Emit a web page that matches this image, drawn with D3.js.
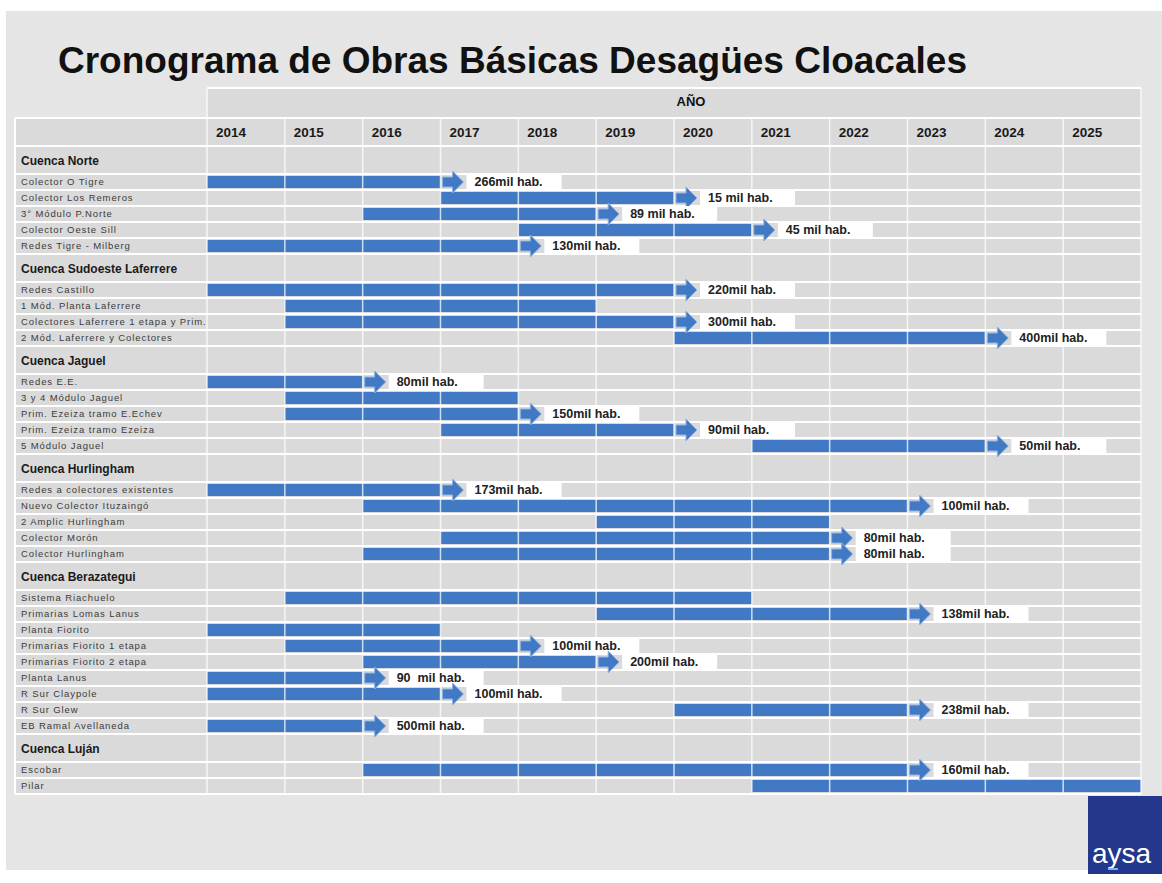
<!DOCTYPE html>
<html>
<head>
<meta charset="utf-8">
<script src="https://cdn.jsdelivr.net/npm/d3@7"></script>
<style>
  body { margin: 0; background: #fff; }
  svg { display: block; font-family: "Liberation Sans", Arial, sans-serif; }
</style>
</head>
<body>
<script>
// data
const years = [2014, 2015, 2016, 2017, 2018, 2019, 2020, 2021, 2022, 2023, 2024, 2025];

const groups = ["Cuenca Norte", "Cuenca Sudoeste Laferrere", "Cuenca Jaguel",
                "Cuenca Hurlingham", "Cuenca Berazategui", "Cuenca Luján"];

const taskGroup = [0, 0, 0, 0, 0,
                   1, 1, 1, 1,
                   2, 2, 2, 2, 2,
                   3, 3, 3, 3, 3,
                   4, 4, 4, 4, 4, 4, 4, 4, 4,
                   5, 5];

const taskNames = [
  "Colector O Tigre", "Colector Los Remeros", "3° Módulo P.Norte", "Colector Oeste Sill", "Redes Tigre - Milberg",
  "Redes Castillo", "1 Mód. Planta Laferrere", "Colectores Laferrere 1 etapa y Prim.", "2 Mód. Laferrere y Colectores",
  "Redes E.E.", "3 y 4 Módulo Jaguel", "Prim. Ezeiza tramo E.Echev", "Prim. Ezeiza tramo Ezeiza", "5 Módulo Jaguel",
  "Redes a colectores existentes", "Nuevo Colector Ituzaingó", "2 Amplic Hurlingham", "Colector Morón", "Colector Hurlingham",
  "Sistema Riachuelo", "Primarias Lomas Lanus", "Planta Fiorito", "Primarias Fiorito 1 etapa", "Primarias Fiorito 2 etapa",
  "Planta Lanus", "R Sur Claypole", "R Sur Glew", "EB Ramal Avellaneda",
  "Escobar", "Pilar"
];

const startYear = [2014, 2017, 2016, 2018, 2014,
                   2014, 2015, 2015, 2020,
                   2014, 2015, 2015, 2017, 2021,
                   2014, 2016, 2019, 2017, 2016,
                   2015, 2019, 2014, 2015, 2016, 2014, 2014, 2020, 2014,
                   2016, 2021];

// end = first year not covered (column edge where the bar stops)
const endYear = [2017, 2020, 2019, 2021, 2018,
                 2020, 2019, 2020, 2024,
                 2016, 2018, 2018, 2020, 2024,
                 2017, 2023, 2022, 2022, 2022,
                 2021, 2023, 2017, 2018, 2019, 2016, 2017, 2023, 2016,
                 2023, 2026];

// population served, shown next to the arrow ("" = no arrow)
const population = ["266mil hab.", "15 mil hab.", "89 mil hab.", "45 mil hab.", "130mil hab.",
                    "220mil hab.", "", "300mil hab.", "400mil hab.",
                    "80mil hab.", "", "150mil hab.", "90mil hab.", "50mil hab.",
                    "173mil hab.", "100mil hab.", "", "80mil hab.", "80mil hab.",
                    "", "138mil hab.", "", "100mil hab.", "200mil hab.", "90  mil hab.", "100mil hab.", "238mil hab.", "500mil hab.",
                    "160mil hab.", ""];

const W = 1162, H = 883;
const tableLeft = 15, labelRight = 207, tableRight = 1141;
const anoTop = 88, yearTop = 118, bodyTop = 146;
const headerH = 28, rowH = 16, barH = 12;

const blue = "#4279c4";

const svg = d3.select("body").append("svg")
  .attr("width", W)
  .attr("height", H);

// slide background
svg.append("rect")
  .attr("x", 6).attr("y", 11)
  .attr("width", W - 6).attr("height", 859)
  .attr("fill", "#e5e5e5");

svg.append("text")
  .attr("x", 58).attr("y", 73)
  .attr("font-size", 37).attr("font-weight", "bold")
  .attr("fill", "#111")
  .text("Cronograma de Obras Básicas Desagües Cloacales");

const x = d3.scaleLinear()
  .domain([years[0], years[years.length - 1] + 1])
  .range([labelRight, tableRight]);

// row layout: group header followed by its tasks
const rows = [];
let yPos = bodyTop;
groups.forEach((g, gi) => {
  rows.push({type: "group", name: g, y: yPos, h: headerH});
  yPos += headerH;
  taskNames.forEach((t, i) => {
    if (taskGroup[i] !== gi) return;
    rows.push({type: "task", i: i, name: t, y: yPos, h: rowH});
    yPos += rowH;
  });
});
const bodyBottom = yPos;

// table cells
svg.append("rect")
  .attr("x", labelRight).attr("y", anoTop)
  .attr("width", tableRight - labelRight).attr("height", yearTop - anoTop)
  .attr("fill", "#dadada");
svg.append("rect")
  .attr("x", tableLeft).attr("y", yearTop)
  .attr("width", tableRight - tableLeft).attr("height", bodyBottom - yearTop)
  .attr("fill", "#dadada");

// horizontal separators
const hLines = [yearTop, bodyTop].concat(rows.map(r => r.y)).concat([bodyBottom]);
svg.append("g").selectAll("line")
  .data(hLines)
  .join("line")
    .attr("x1", tableLeft).attr("x2", tableRight)
    .attr("y1", d => d).attr("y2", d => d)
    .attr("stroke", "#fff")
    .attr("stroke-width", 2);
svg.append("line")
  .attr("x1", labelRight).attr("x2", tableRight)
  .attr("y1", anoTop).attr("y2", anoTop)
  .attr("stroke", "#fff").attr("stroke-width", 2);

// header texts
svg.append("text")
  .attr("x", (x.range()[0] + x.range()[1]) / 2 + 17)
  .attr("y", 106)
  .attr("text-anchor", "middle")
  .attr("font-size", 13).attr("font-weight", "bold")
  .attr("fill", "#111")
  .text("AÑO");

svg.append("g").selectAll("text")
  .data(years)
  .join("text")
    .attr("x", d => x(d) + 24)
    .attr("y", 137)
    .attr("text-anchor", "middle")
    .attr("font-size", 13.5).attr("font-weight", "bold")
    .attr("fill", "#1a1a1a")
    .text(d => d);

// row labels (clipped to the first column)
svg.append("clipPath").attr("id", "labelClip")
  .append("rect")
    .attr("x", tableLeft).attr("y", 0)
    .attr("width", labelRight - tableLeft - 2).attr("height", H);

const labels = svg.append("g").attr("clip-path", "url(#labelClip)");
labels.selectAll("text")
  .data(rows)
  .join("text")
    .attr("x", 21)
    .attr("y", d => d.type === "group" ? d.y + d.h / 2 + 5 : d.y + d.h / 2 + 3)
    .attr("font-size", d => d.type === "group" ? 12 : 9.5)
    .attr("font-weight", d => d.type === "group" ? "bold" : "normal")
    .attr("letter-spacing", d => d.type === "group" ? 0 : 0.9)
    .attr("fill", d => d.type === "group" ? "#1a1a1a" : "#3a3a3a")
    .text(d => d.name);

// bars
const taskRows = rows.filter(r => r.type === "task");
svg.append("g").selectAll("rect")
  .data(taskRows)
  .join("rect")
    .attr("x", d => x(startYear[d.i]))
    .attr("y", d => d.y + (rowH - barH) / 2)
    .attr("width", d => x(endYear[d.i]) - x(startYear[d.i]))
    .attr("height", barH)
    .attr("fill", blue);

// vertical grid over everything (the AÑO row is one merged cell)
const vLines = d3.range(years[0], years[years.length - 1] + 2);
svg.append("g").selectAll("line")
  .data(vLines)
  .join("line")
    .attr("x1", d => x(d)).attr("x2", d => x(d))
    .attr("y1", (d, i) => i === 0 || i === vLines.length - 1 ? anoTop : yearTop)
    .attr("y2", bodyBottom)
    .attr("stroke", "#fff")
    .attr("stroke-opacity", 0.75)
    .attr("stroke-width", 1.5);
svg.append("line")
  .attr("x1", tableLeft).attr("x2", tableLeft)
  .attr("y1", yearTop).attr("y2", bodyBottom)
  .attr("stroke", "#fff").attr("stroke-width", 2);

// arrows + population boxes
const arrowRows = taskRows.filter(d => population[d.i] !== "");

function arrowPath(x0, cy) {
  return `M${x0 + 2},${cy - 5} L${x0 + 12},${cy - 5} L${x0 + 12},${cy - 11}
          L${x0 + 23},${cy} L${x0 + 12},${cy + 11} L${x0 + 12},${cy + 5}
          L${x0 + 2},${cy + 5} Z`;
}

const ann = svg.append("g").selectAll("g")
  .data(arrowRows)
  .join("g");

ann.append("rect")
  .attr("x", d => x(endYear[d.i]) + 26)
  .attr("y", d => d.y)
  .attr("width", 95)
  .attr("height", rowH)
  .attr("fill", "#fff");

ann.append("path")
  .attr("d", d => arrowPath(x(endYear[d.i]), d.y + rowH / 2))
  .attr("fill", blue)
  .attr("stroke", "#8fb2e0")
  .attr("stroke-width", 1);

ann.append("text")
  .attr("x", d => x(endYear[d.i]) + 34)
  .attr("y", d => d.y + rowH / 2 + 4)
  .attr("font-size", 12.5).attr("font-weight", "bold")
  .attr("fill", "#222")
  .attr("xml:space", "preserve")
  .text(d => population[d.i]);

// aysa logo
svg.append("rect")
  .attr("x", 1088).attr("y", 796)
  .attr("width", W - 1088).attr("height", 78)
  .attr("fill", "#23378c");
svg.append("text")
  .attr("x", 1092).attr("y", 863)
  .attr("font-size", 28)
  .attr("fill", "#fff")
  .text("aysa");
svg.append("rect")
  .attr("x", 1108).attr("y", 868)
  .attr("width", 10).attr("height", 2)
  .attr("fill", "#7fb0e6");
</script>
</body>
</html>
